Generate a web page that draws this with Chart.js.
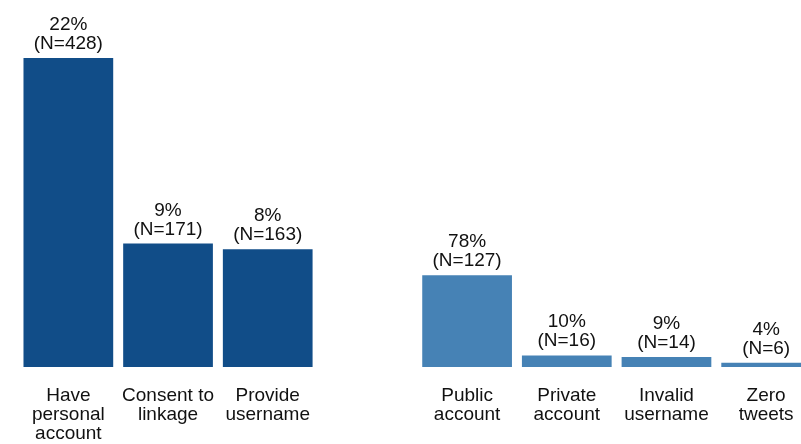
<!DOCTYPE html>
<html>
<head>
<meta charset="utf-8">
<script src="https://cdn.jsdelivr.net/npm/chart.js@4/dist/chart.umd.min.js"></script>
<style>
  html, body { margin: 0; padding: 0; background: #fff; overflow: hidden; }
  #wrap { position: absolute; left: 0; top: 0; width: 816px; height: 454px; }
</style>
</head>
<body>
<div id="wrap"><canvas id="funnel"></canvas></div>
<script>
// left group: survey respondents who agreed to the Twitter linkage
let accessLabels = [['Have', 'personal', 'account'], ['Consent to', 'linkage'], ['Provide', 'username']]
let accessN = [428, 171, 163]
let accessPct = [22, 9, 8]

// right group: what happened to the usernames they gave us
let statusLabels = [['Public', 'account'], ['Private', 'account'], ['Invalid', 'username'], ['Zero', 'tweets']]
let statusN = [127, 16, 14, 6]
let statusPct = [78, 10, 9, 4]

let darkBlue = '#114d88'
let lightBlue = '#4682b5'
let fontFamily = '"Liberation Sans", Arial, Helvetica, sans-serif'

// an empty slot between the two groups keeps them apart
let labels = [...accessLabels, '', ...statusLabels]
let counts = [...accessN, null, ...statusN]
let percents = [...accessPct, null, ...statusPct]
let colors = [...accessN.map(() => darkBlue), 'rgba(0,0,0,0)', ...statusN.map(() => lightBlue)]

// "22%" over "(N=428)" above each bar
let barLabels = {
    id: 'barLabels',
    afterDatasetsDraw(chart) {
        let ctx = chart.ctx
        let meta = chart.getDatasetMeta(0)
        ctx.save()
        ctx.font = '19px ' + fontFamily
        ctx.fillStyle = '#111'
        ctx.textAlign = 'center'
        ctx.textBaseline = 'alphabetic'
        meta.data.forEach(function(bar, i) {
            if (counts[i] == null) return
            ctx.fillText(percents[i] + '%', bar.x, bar.y - 28)
            ctx.fillText('(N=' + counts[i] + ')', bar.x, bar.y - 9)
        })
        ctx.restore()
    }
}

let ctx = document.querySelector('#funnel').getContext('2d')

let funnelChart = new Chart(ctx, {
    type: 'bar',
    data: {
        labels: labels,
        datasets: [{
            data: counts,
            backgroundColor: colors,
            borderWidth: 0,
            barPercentage: 0.9,
            categoryPercentage: 1.0
        }]
    },
    options: {
        responsive: true,
        maintainAspectRatio: false,
        animation: false,
        layout: { padding: { left: 18.5, right: 0, top: 6, bottom: 0 } },
        plugins: {
            legend: { display: false },
            tooltip: { enabled: false }
        },
        scales: {
            x: {
                grid: { display: false },
                border: { display: false },
                ticks: {
                    color: '#111',
                    font: { family: fontFamily, size: 19, lineHeight: 1.0 },
                    padding: 11,
                    autoSkip: false,
                    maxRotation: 0
                }
            },
            y: {
                display: false,
                min: 0,
                max: 500
            }
        }
    },
    plugins: [barLabels]
})
</script>
</body>
</html>
